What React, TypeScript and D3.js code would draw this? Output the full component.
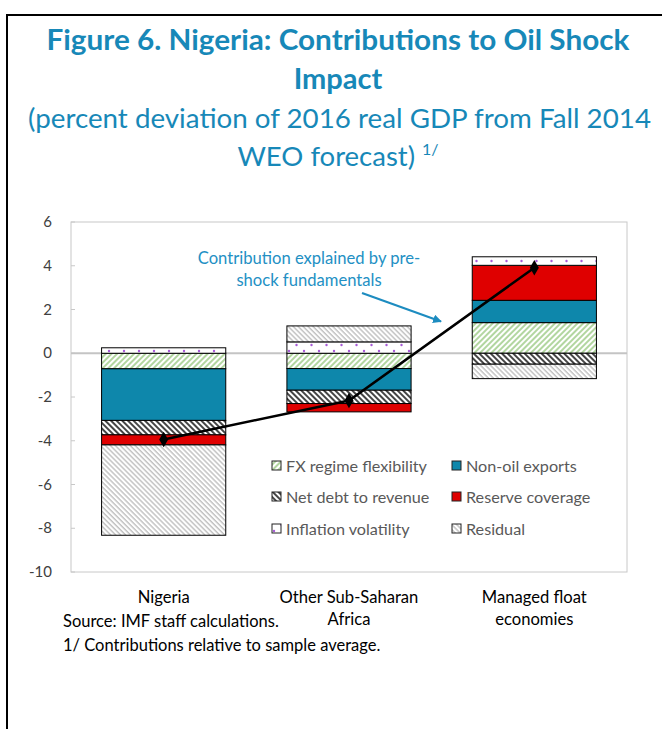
import React from "react";
import * as d3 from "d3";

const categories = ["Nigeria", "Other Sub-Saharan Africa", "Managed float economies"];
const categoryLines = [["Nigeria"], ["Other Sub-Saharan", "Africa"], ["Managed float", "economies"]];
const seriesNames = [
  "FX regime flexibility",
  "Non-oil exports",
  "Net debt to revenue",
  "Reserve coverage",
  "Inflation volatility",
  "Residual",
];
const fxRegime = [-0.71, -0.7, 1.4];
const nonOilExports = [-2.36, -0.99, 1.02];
const netDebt = [-0.66, -0.61, -0.5];
const reserveCoverage = [-0.46, -0.38, 1.6];
const inflationVolatility = [0.25, 0.52, 0.39];
const residual = [-4.13, 0.73, -0.66];
const fundamentals = [-3.94, -2.16, 3.91];
const yTicks = [6, 4, 2, 0, -2, -4, -6, -8, -10];

const seriesValues = [fxRegime, nonOilExports, netDebt, reserveCoverage, inflationVolatility, residual];
const seriesFill = [
  "url(#pFx)",
  "#0e87ab",
  "url(#pDebt)",
  "#df0000",
  "url(#pDots)",
  "url(#pResid)",
];

const W = 662;
const H = 729;
const plotL = 71;
const plotR = 627;
const plotT = 222;
const plotB = 572;
const FONT = "Lato, 'Open Sans', sans-serif";

export default function App() {
  const x = d3
    .scaleBand<string>()
    .domain(categories)
    .range([plotL, plotR])
    .paddingInner(0.33)
    .paddingOuter(0.165);
  const y = d3.scaleLinear().domain([-10, 6]).range([plotB, plotT]);

  const table = categories.map((c, i) => {
    const row: any = { cat: c };
    seriesNames.forEach((s, j) => (row[s] = seriesValues[j][i]));
    return row;
  });
  const stacked = d3
    .stack<any>()
    .keys(seriesNames)
    .offset(d3.stackOffsetDiverging)(table);

  const cx = (c: string) => (x(c) as number) + x.bandwidth() / 2;
  const linePath = d3
    .line<number>()
    .x((_, i) => cx(categories[i]))
    .y((d) => y(d))(fundamentals);
  const diamond = d3.symbol().type(d3.symbolDiamond).size(70)();

  const legendPos = [
    [272, 466],
    [452, 466],
    [272, 497],
    [452, 497],
    [272, 529],
    [452, 529],
  ];

  return (
    <svg
      width={W}
      height={H}
      style={{ position: "absolute", left: 0, top: 0, background: "#fff" }}
      fontFamily={FONT}
    >
      <defs>
        <pattern id="pFx" patternUnits="userSpaceOnUse" width={4} height={4} patternTransform="rotate(45)">
          <rect width={4} height={4} fill="#fff" />
          <line x1={1} y1={0} x2={1} y2={4} stroke="#9fcc88" strokeWidth={1.6} />
        </pattern>
        <pattern id="pDebt" patternUnits="userSpaceOnUse" width={4} height={4} patternTransform="rotate(-45)">
          <rect width={4} height={4} fill="#fff" />
          <line x1={1} y1={0} x2={1} y2={4} stroke="#303030" strokeWidth={1.8} />
        </pattern>
        <pattern id="pResid" patternUnits="userSpaceOnUse" width={3.5} height={3.5} patternTransform="rotate(-45)">
          <rect width={3.5} height={3.5} fill="#fff" />
          <line x1={1} y1={0} x2={1} y2={3.5} stroke="#b4b4b4" strokeWidth={1.2} />
        </pattern>
        <pattern id="pDots" patternUnits="userSpaceOnUse" width={15} height={12}>
          <rect width={15} height={12} fill="#fff" />
          <circle cx={4} cy={3} r={1.2} fill="#a85ad8" />
          <circle cx={11.5} cy={9} r={1.2} fill="#a85ad8" />
        </pattern>
        <marker id="arrowHead" viewBox="0 0 10 10" refX={9} refY={5} markerWidth={4} markerHeight={4} orient="auto">
          <path d="M0,0 L10,5 L0,10 z" fill="#1d8cc0" />
        </marker>
      </defs>

      <rect x={7} y={15} width={720} height={800} fill="none" stroke="#000" strokeWidth={2} />

      <g fill="#1788b8" textAnchor="middle">
        <text x={338} y={50} fontSize={29} fontWeight={700} textLength={583} lengthAdjust="spacingAndGlyphs">
          Figure 6. Nigeria: Contributions to Oil Shock
        </text>
        <text x={338} y={89} fontSize={29} fontWeight={700}>
          Impact
        </text>
        <text x={339.5} y={128} fontSize={27.5} textLength={623} lengthAdjust="spacingAndGlyphs">
          (percent deviation of 2016 real GDP from Fall 2014
        </text>
        <text x={338} y={166} fontSize={27.5}>
          WEO forecast) <tspan fontSize={16} dy={-11}>1/</tspan>
        </text>
      </g>

      <rect x={plotL} y={plotT} width={plotR - plotL} height={plotB - plotT} fill="none" stroke="#c8c8c8" strokeWidth={1} />
      {yTicks.map((t) => (
        <g key={t}>
          <line x1={plotL} x2={plotL + 4} y1={y(t)} y2={y(t)} stroke="#c8c8c8" />
          <text x={52} y={y(t) + 5} textAnchor="end" fontSize={15} fill="#404040">
            {t}
          </text>
        </g>
      ))}
      <line x1={plotL} x2={plotR} y1={y(0)} y2={y(0)} stroke="#c4c4c4" strokeWidth={2} />

      {stacked.map((s, j) => (
        <g key={s.key}>
          {s.map((d, i) => {
            const y0 = y(d[1]);
            const y1 = y(d[0]);
            if (Math.abs(y1 - y0) < 0.01) return null;
            return (
              <rect
                key={i}
                x={x(categories[i])}
                y={y0}
                width={x.bandwidth()}
                height={y1 - y0}
                fill={seriesFill[j]}
                stroke="#000"
                strokeWidth={1}
              />
            );
          })}
        </g>
      ))}

      <path d={linePath || ""} fill="none" stroke="#000" strokeWidth={2.5} />
      {fundamentals.map((v, i) => (
        <path key={i} d={diamond || ""} transform={`translate(${cx(categories[i])},${y(v)})`} fill="#000" />
      ))}

      <g fill="#2390c4" textAnchor="middle" fontSize={16.6}>
        <text x={309} y={264}>Contribution explained by pre-</text>
        <text x={309} y={286}>shock fundamentals</text>
      </g>
      <line x1={362} y1={293} x2={441} y2={321.5} stroke="#1d8cc0" strokeWidth={2.2} markerEnd="url(#arrowHead)" />

      {seriesNames.map((s, j) => (
        <g key={s}>
          <rect x={legendPos[j][0]} y={legendPos[j][1] - 5} width={9} height={9} fill={seriesFill[j]} stroke="#222" strokeWidth={1} />
          <text x={legendPos[j][0] + 14} y={legendPos[j][1] + 5.5} fontSize={16.2} fill="#595959">
            {s}
          </text>
        </g>
      ))}

      {categoryLines.map((lines, i) => (
        <text key={i} textAnchor="middle" fontSize={16.6} fill="#000">
          {lines.map((l, k) => (
            <tspan key={k} x={cx(categories[i])} y={603 + k * 22}>
              {l}
            </tspan>
          ))}
        </text>
      ))}

      <text x={63} y={627} fontSize={16.5} fill="#000">Source: IMF staff calculations.</text>
      <text x={63} y={651} fontSize={16.5} fill="#000">1/ Contributions relative to sample average.</text>
    </svg>
  );
}
